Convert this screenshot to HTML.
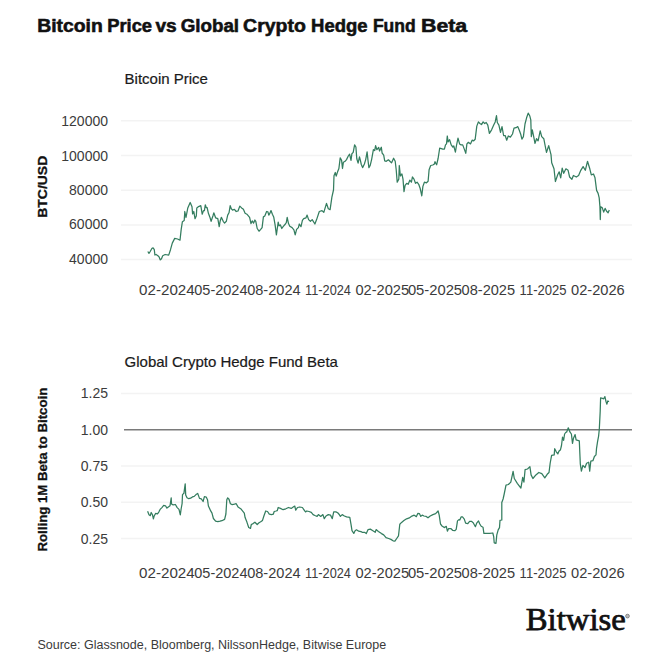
<!DOCTYPE html>
<html><head><meta charset="utf-8"><style>
html,body{margin:0;padding:0;background:#fff;width:670px;height:670px;overflow:hidden}
svg{display:block;font-family:"Liberation Sans",sans-serif}
</style></head><body>
<svg width="670" height="670" viewBox="0 0 670 670">
<rect width="670" height="670" fill="#fff"/>
<line x1="121" x2="632" y1="120.8" y2="120.8" stroke="#f3f3f3" stroke-width="1.5"/>
<line x1="121" x2="632" y1="155.5" y2="155.5" stroke="#f3f3f3" stroke-width="1.5"/>
<line x1="121" x2="632" y1="190.2" y2="190.2" stroke="#f3f3f3" stroke-width="1.5"/>
<line x1="121" x2="632" y1="224.9" y2="224.9" stroke="#f3f3f3" stroke-width="1.5"/>
<line x1="121" x2="632" y1="259.6" y2="259.6" stroke="#f3f3f3" stroke-width="1.5"/>
<line x1="121" x2="632" y1="393.5" y2="393.5" stroke="#f3f3f3" stroke-width="1.5"/>
<line x1="124" x2="632" y1="429.7" y2="429.7" stroke="#7a7a7a" stroke-width="1.6"/>
<line x1="121" x2="632" y1="466.0" y2="466.0" stroke="#f3f3f3" stroke-width="1.5"/>
<line x1="121" x2="632" y1="502.2" y2="502.2" stroke="#f3f3f3" stroke-width="1.5"/>
<line x1="121" x2="632" y1="538.5" y2="538.5" stroke="#f3f3f3" stroke-width="1.5"/>
<polyline fill="none" stroke="#347d5f" stroke-width="1.25" stroke-linejoin="round" points="147.8,251.5 149,253.3 150.2,251.5 152,248.3 153.1,247.9 154.3,249.7 154.9,255 156.1,254.5 157.9,255.7 159.1,256.9 160.3,259.9 161.5,258.7 162.7,255.7 165.1,254.5 168.7,255.1 170.5,249.7 172.3,243.1 174.7,238.4 177.6,239 180,240.2 181.2,229.4 182.4,221.7 184.2,220.5 184.8,211.5 186,217.5 187.8,207.9 190.2,202.5 192,206.7 192.6,213.9 193.8,211.5 195,218.7 196.3,216 196.8,207.9 198.6,206.6 200.8,205.7 202.2,214.2 203.5,210.6 204.4,210.6 205.3,204.8 206.2,207.5 207.1,207.5 208.4,213.3 209.8,216.9 211.1,221.3 212.9,216 213.8,212.8 215.6,217.8 217.8,218.7 219.2,226.7 220.1,221.3 221.4,217.3 223.2,221.3 224.6,223.1 226.3,221.3 227.7,215.1 229,212.8 230.2,205.7 231.3,208.8 232.6,210.1 234.4,209.3 236.2,211.5 238,211 239.8,206.1 241.6,207.9 243.4,209.3 245.1,213.3 246.9,214.2 249.6,217.3 251,223.6 252.2,220.9 253.6,223.1 254.9,220 255.8,221.3 257.2,228.5 259,231.2 260.7,229.4 262.1,227.6 263.4,216.9 264.8,216 266.6,211.5 267.9,211.9 268.8,215.1 269.7,213.7 271,210.6 272.4,214.2 273.7,216.9 275.1,224.9 276.4,234.8 278.2,222.2 279.1,225.8 280.4,224.9 281.8,228.5 283.1,226.7 285.4,224 286.3,222.7 287.2,217.3 288.5,223.6 289.8,226.3 292.1,227.6 293.9,229.8 295.2,234.8 296.6,229.4 298.4,227.6 299.3,224 301,226.7 302.4,220.4 303.7,218.7 306,217.8 307.1,215.1 308.6,219.6 310.4,221.3 312.2,219.6 314.9,224 316.6,219.6 319.3,211.5 322,210.6 323.8,212.4 326.5,203.4 328.3,208.8 330.1,209.7 331.9,197.2 333.5,190 334,175.7 335.3,172.5 336.2,176.1 337.5,172.1 338.9,168.5 340.2,157.8 341.6,160.4 342.5,168.5 343.4,162.2 345.1,161.3 346.5,159.6 348.3,156 349.6,154.2 351,160.4 351.9,153.7 353.2,152.4 354.6,144.8 355.9,147 356.8,158.7 358.1,163.1 359.5,156.9 360.4,160.4 361.3,164.5 362.6,167.6 364.4,164 365.7,159.6 367.1,151.9 368,160.4 368.9,167.6 370.2,165.4 371.6,159.6 373.4,149.7 374.7,150.6 375.6,145.7 376.9,149.7 378.7,147.5 379.6,151 381.3,147.2 382.1,153 383.7,155.1 384.7,160.8 386.3,161.3 388.4,159.8 389.9,161.3 391.5,162.9 393.6,158.2 395.2,161.3 396.2,169.7 397.2,182.2 398.8,179.1 399.3,165.5 400.4,176 401.9,173.9 403,179.1 404,191.7 405.1,185.4 406.7,183.3 408.2,184.3 409.8,180.2 411.4,182.2 412.4,177 414,179.1 415.5,183.3 417.1,182.2 418.7,184.3 420.2,188.5 421.8,195.8 422.9,186.4 424.4,182.2 426.5,182.8 428.1,181.2 429.1,169.7 430.7,165.5 432.8,165 434.4,164 435,161.7 436.6,164.8 438.1,158.5 439.7,148.1 441.3,148.6 442.8,149.1 444.4,149.1 445.5,144.9 446.5,143.9 447.3,136 448.1,141.8 449.6,139.7 451.2,144.9 452.8,147 453.8,146 455.4,152.2 456.4,146 458,138.1 459.6,143.9 461.1,144.9 462.7,144.9 464.3,149.1 465.8,153.3 466.9,143.9 468.4,142.3 470.5,143.9 472.1,140.2 473.7,140.8 475.2,139.2 476.8,126.1 478.4,121.9 479.9,123.5 481.5,124.6 483.1,121.9 484.7,123.5 486.2,122.5 487.8,125.1 489.4,133.4 491.6,129.8 493.7,125.1 495.2,121.9 496.5,115.7 497.3,122.5 498.9,125.1 500.5,132.4 502,126.6 503.6,135.5 505.2,135.5 506.7,140.2 508.3,136 510.4,137.1 512.5,134 514,128.2 516.1,127.7 517.7,126.6 519.3,130.3 520.8,134.5 521.9,139.2 523.4,136.6 525,124 526.6,117.8 528.2,113.1 529.7,115.7 530.8,119.9 531.3,136.6 532.3,129.8 533.9,137.6 535,143.4 536.5,138.7 538.1,140.8 540.2,130.8 541.7,136.6 543.8,138.7 545.4,147 546.5,152.4 548.7,145.7 551,154.6 551.7,162.8 554,168.8 555.4,181.5 557.7,174.8 559.2,171.8 560.7,177.8 562.2,168.1 563.7,173.3 565.9,168.8 568.1,170.3 569.6,177 571.9,179.3 573.4,175.5 576.3,177 578.6,175.5 580.8,170.3 583.1,166.6 585.3,170.3 587.5,161.3 589.8,168.8 591.3,174.8 593.5,174 595,177.8 596.6,190.4 598.1,193.4 599.2,197.9 599.9,206.1 600.3,219.6 600.7,206.9 602.2,207.6 603.7,212.1 605.1,208.4 606.6,211.3 608.1,212.8 609.3,209.9"/>
<polyline fill="none" stroke="#347d5f" stroke-width="1.25" stroke-linejoin="round" points="147.6,511.2 149,514.8 150.3,515.7 151.2,512.5 152.5,514.8 153.4,518.8 154.3,515.7 155.7,513.4 157.5,513.9 158.8,512.1 160.1,509.4 161.9,507.6 163.7,505.4 165.5,505.8 166.9,508.1 168.7,506.7 170,505.8 171.2,497.8 171.5,504 173.1,504.9 175.4,504.5 177.2,507.6 179,509.4 180.3,514.8 181.2,508.5 182.1,503.6 182.5,494.6 183.9,493.3 185.2,483.9 185.7,495.1 187,497.8 188.8,498.7 190.6,498.2 192.4,496.9 194.2,496.4 196,494.6 197.7,493.4 199.5,498.4 201.3,498.8 203.1,501.5 204.4,496.6 206.2,497 207.5,499.7 208.4,506 210.7,510.9 212,513.1 213.4,518.5 215.6,521.2 217.8,521.6 220.1,521.2 221.9,520.7 224.6,519.4 225.9,514 226.8,499.7 227.7,497.9 229,499.3 230.4,503.7 232.2,504.6 234.4,504.2 236.2,503.7 238,506.9 240.7,508.7 242.5,510.9 244.3,513.1 245.1,517.6 246.9,522.1 248.7,527.5 250.5,528.4 251.3,524.5 253.1,523.6 254.9,522.2 257.2,524.5 259,522.7 260.7,521.8 262.5,520.4 263.9,516 265.7,511 267.5,511.5 269.3,514.2 271.5,514.6 273.3,514.2 274.2,511.5 276,511 277.3,510.6 278.2,507.5 280.4,508.4 283.1,509.7 285.8,508.8 288.5,507.5 291.2,508.4 293.9,506.6 294.8,506.1 295.7,510.1 297.5,507.5 299.7,507 302.4,507.5 304.2,510.1 305.5,511.9 306.8,511 309,511.5 311.3,512.4 313.1,514.6 314.9,515.5 317.1,516.4 318.4,514.6 320.7,516.4 322.9,514.6 324.3,518.7 326,516 328.3,514.6 330.5,515.1 332.3,518.7 333.7,511.9 335.9,511.9 337.7,512.8 339,514.2 340.4,516.4 342.2,514.6 344.4,516 346.6,516.9 349.8,517.3 351.1,524.9 352,530.7 353.8,533.4 355.1,530.7 356.5,529.8 358.7,531.2 361,531.6 362.2,532.3 364.5,532.3 366.3,533.6 368.1,529.6 370.3,529.1 372.5,530.5 375.2,532.3 376.1,529.6 378.4,531.4 381.5,533.6 383.7,534.9 386,537.6 388.7,538.5 390.9,539.4 393.1,540.8 394.9,541.2 396.7,538.5 398.5,535.8 399.8,524.2 401.6,522.4 403.9,520.6 406.6,518.8 409.3,517.9 411.9,516.1 414.2,515.2 416.4,516.6 417.8,513.4 419.5,513.7 420.8,516.4 422.2,515.1 424,516 426.2,516.4 428,517.8 430.2,516 432.9,514.6 435.6,513.7 438.1,511 439.2,515.1 440.5,524 442.3,526.3 444.6,527.6 446.3,526.3 447.4,531.2 448.6,528.5 450.8,528.5 452.6,530.3 454.8,530.7 456.2,529.4 457.5,520.9 458.9,519.6 459.8,520 461.1,516.9 462.5,516.9 464.3,519.1 465.6,523.1 467.8,523.6 469.6,521.3 471.4,521.3 473.2,522.7 475.4,526.7 476.7,523.1 478.5,520.9 479.8,524 481.2,526.3 483,527.2 483.9,533.4 486.6,533.4 489.7,533.4 492.8,533 493.7,536.6 494.2,542.8 496,543.3 496.8,534.8 498.2,529.9 499.5,527.6 500,520.4 501.8,520 501.8,502.5 503.1,499 504.2,494 506,485.1 508.4,484.5 510.8,482.1 513.1,471.3 514.3,478.5 517.3,483.3 520.9,488.1 522.7,477.3 523.9,482.1 525.1,469.6 527.5,469 529.9,466.6 531.1,474.9 532.9,478.5 535.9,474.9 538.8,472.5 541.8,473.7 544.8,477.9 547.2,474.3 549,472.5 550.2,463 551.6,455.4 554.2,454.9 554.7,448.7 556.3,451.8 557.8,453.9 558.9,451.3 560.5,449.7 561.5,445.5 562.5,437.2 563.6,440.3 564.6,434 565.7,432.5 566.7,431.9 568.3,427.8 569.9,431.9 571.4,434 572.5,443.4 573.5,438.2 575.1,434.6 576.1,439.8 577.7,440.3 579.3,440.8 580.3,463.8 581.4,471.1 582.9,465.4 585,467.5 586.6,463.3 588.7,462.2 589.7,471.1 590.8,461.2 592.9,460.7 594.4,456.5 596,454.9 596.5,448.7 597.6,441.3 598.6,436.1 599.3,429.3 600.2,411.3 600.6,397.9 602.4,398.4 603.7,398.8 604.9,396.6 606,401.5 606.9,404.2 607.8,401 609.1,401.5"/>
<text x="108" y="126.0" font-size="14" text-anchor="end" font-weight="400" fill="#3b3b3b" >120000</text>
<text x="108" y="160.5" font-size="14" text-anchor="end" font-weight="400" fill="#3b3b3b" >100000</text>
<text x="108" y="195.0" font-size="14" text-anchor="end" font-weight="400" fill="#3b3b3b" >80000</text>
<text x="108" y="229.4" font-size="14" text-anchor="end" font-weight="400" fill="#3b3b3b" >60000</text>
<text x="108" y="263.7" font-size="14" text-anchor="end" font-weight="400" fill="#3b3b3b" >40000</text>
<text x="108" y="398.2" font-size="14" text-anchor="end" font-weight="400" fill="#3b3b3b" >1.25</text>
<text x="108" y="434.5" font-size="14" text-anchor="end" font-weight="400" fill="#3b3b3b" >1.00</text>
<text x="108" y="470.8" font-size="14" text-anchor="end" font-weight="400" fill="#3b3b3b" >0.75</text>
<text x="108" y="507.2" font-size="14" text-anchor="end" font-weight="400" fill="#3b3b3b" >0.50</text>
<text x="108" y="543.6" font-size="14" text-anchor="end" font-weight="400" fill="#3b3b3b" >0.25</text>
<text x="139.1" y="294.8" font-size="14" text-anchor="start" font-weight="400" fill="#3b3b3b" textLength="55.6" lengthAdjust="spacingAndGlyphs">02-2024</text>
<text x="139.1" y="577.9" font-size="14" text-anchor="start" font-weight="400" fill="#3b3b3b" textLength="55.6" lengthAdjust="spacingAndGlyphs">02-2024</text>
<text x="194.3" y="294.8" font-size="14" text-anchor="start" font-weight="400" fill="#3b3b3b" textLength="53.2" lengthAdjust="spacingAndGlyphs">05-2024</text>
<text x="194.3" y="577.9" font-size="14" text-anchor="start" font-weight="400" fill="#3b3b3b" textLength="53.2" lengthAdjust="spacingAndGlyphs">05-2024</text>
<text x="247.20000000000002" y="294.8" font-size="14" text-anchor="start" font-weight="400" fill="#3b3b3b" textLength="53.4" lengthAdjust="spacingAndGlyphs">08-2024</text>
<text x="247.20000000000002" y="577.9" font-size="14" text-anchor="start" font-weight="400" fill="#3b3b3b" textLength="53.4" lengthAdjust="spacingAndGlyphs">08-2024</text>
<text x="305.1" y="294.8" font-size="14" text-anchor="start" font-weight="400" fill="#3b3b3b" textLength="45.8" lengthAdjust="spacingAndGlyphs">11-2024</text>
<text x="305.1" y="577.9" font-size="14" text-anchor="start" font-weight="400" fill="#3b3b3b" textLength="45.8" lengthAdjust="spacingAndGlyphs">11-2024</text>
<text x="355.4" y="294.8" font-size="14" text-anchor="start" font-weight="400" fill="#3b3b3b" textLength="53.7" lengthAdjust="spacingAndGlyphs">02-2025</text>
<text x="355.4" y="577.9" font-size="14" text-anchor="start" font-weight="400" fill="#3b3b3b" textLength="53.7" lengthAdjust="spacingAndGlyphs">02-2025</text>
<text x="407.9" y="294.8" font-size="14" text-anchor="start" font-weight="400" fill="#3b3b3b" textLength="54.2" lengthAdjust="spacingAndGlyphs">05-2025</text>
<text x="407.9" y="577.9" font-size="14" text-anchor="start" font-weight="400" fill="#3b3b3b" textLength="54.2" lengthAdjust="spacingAndGlyphs">05-2025</text>
<text x="461.59999999999997" y="294.8" font-size="14" text-anchor="start" font-weight="400" fill="#3b3b3b" textLength="53.5" lengthAdjust="spacingAndGlyphs">08-2025</text>
<text x="461.59999999999997" y="577.9" font-size="14" text-anchor="start" font-weight="400" fill="#3b3b3b" textLength="53.5" lengthAdjust="spacingAndGlyphs">08-2025</text>
<text x="519.5999999999999" y="294.8" font-size="14" text-anchor="start" font-weight="400" fill="#3b3b3b" textLength="46.9" lengthAdjust="spacingAndGlyphs">11-2025</text>
<text x="519.5999999999999" y="577.9" font-size="14" text-anchor="start" font-weight="400" fill="#3b3b3b" textLength="46.9" lengthAdjust="spacingAndGlyphs">11-2025</text>
<text x="571.0" y="294.8" font-size="14" text-anchor="start" font-weight="400" fill="#3b3b3b" textLength="53.7" lengthAdjust="spacingAndGlyphs">02-2026</text>
<text x="571.0" y="577.9" font-size="14" text-anchor="start" font-weight="400" fill="#3b3b3b" textLength="53.7" lengthAdjust="spacingAndGlyphs">02-2026</text>
<text x="37.2" y="32.4" font-size="18" text-anchor="start" font-weight="700" fill="#111" textLength="65.6" lengthAdjust="spacingAndGlyphs" stroke="#111" stroke-width="0.55">Bitcoin</text>
<text x="107.2" y="32.4" font-size="18" text-anchor="start" font-weight="700" fill="#111" textLength="44.9" lengthAdjust="spacingAndGlyphs" stroke="#111" stroke-width="0.55">Price</text>
<text x="155.4" y="32.4" font-size="18" text-anchor="start" font-weight="700" fill="#111" textLength="21.3" lengthAdjust="spacingAndGlyphs" stroke="#111" stroke-width="0.55">vs</text>
<text x="180.7" y="32.4" font-size="18" text-anchor="start" font-weight="700" fill="#111" textLength="58.4" lengthAdjust="spacingAndGlyphs" stroke="#111" stroke-width="0.55">Global</text>
<text x="243.1" y="32.4" font-size="18" text-anchor="start" font-weight="700" fill="#111" textLength="62.7" lengthAdjust="spacingAndGlyphs" stroke="#111" stroke-width="0.55">Crypto</text>
<text x="311.1" y="32.4" font-size="18" text-anchor="start" font-weight="700" fill="#111" textLength="56.5" lengthAdjust="spacingAndGlyphs" stroke="#111" stroke-width="0.55">Hedge</text>
<text x="372.9" y="32.4" font-size="18" text-anchor="start" font-weight="700" fill="#111" textLength="42.8" lengthAdjust="spacingAndGlyphs" stroke="#111" stroke-width="0.55">Fund</text>
<text x="421" y="32.4" font-size="18" text-anchor="start" font-weight="700" fill="#111" textLength="46.2" lengthAdjust="spacingAndGlyphs" stroke="#111" stroke-width="0.55">Beta</text>
<text x="124.6" y="83.9" font-size="15" text-anchor="start" font-weight="400" fill="#1a1a1a" stroke="#1a1a1a" stroke-width="0.2">Bitcoin Price</text>
<text x="124.6" y="367.1" font-size="15" text-anchor="start" font-weight="400" fill="#1a1a1a" stroke="#1a1a1a" stroke-width="0.2" textLength="213.3" lengthAdjust="spacing">Global Crypto Hedge Fund Beta</text>
<text x="37.4" y="648.7" font-size="12.5" text-anchor="start" font-weight="400" fill="#3a3a3a" >Source: Glassnode, Bloomberg, NilssonHedge, Bitwise Europe</text>
<text transform="translate(47.4,186.75) rotate(-90)" x="0" y="0" font-size="13.5" textLength="62" lengthAdjust="spacingAndGlyphs" font-weight="700" text-anchor="middle" fill="#111" stroke="#111" stroke-width="0.3">BTC/USD</text>
<text transform="translate(47.4,469.65) rotate(-90)" x="0" y="0" font-size="13.5" textLength="163.7" lengthAdjust="spacingAndGlyphs" font-weight="700" text-anchor="middle" fill="#111" stroke="#111" stroke-width="0.3">Rolling 1M Beta to Bitcoin</text>
<text x="525.8" y="630" font-family="Liberation Serif, serif" font-size="31.5" font-weight="400" fill="#111" stroke="#111" stroke-width="0.75" textLength="100" lengthAdjust="spacingAndGlyphs">Bitwise</text>
<circle cx="627.5" cy="616.1" r="1.9" fill="#bbb" stroke="#555" stroke-width="0.6"/>
</svg></body></html>
